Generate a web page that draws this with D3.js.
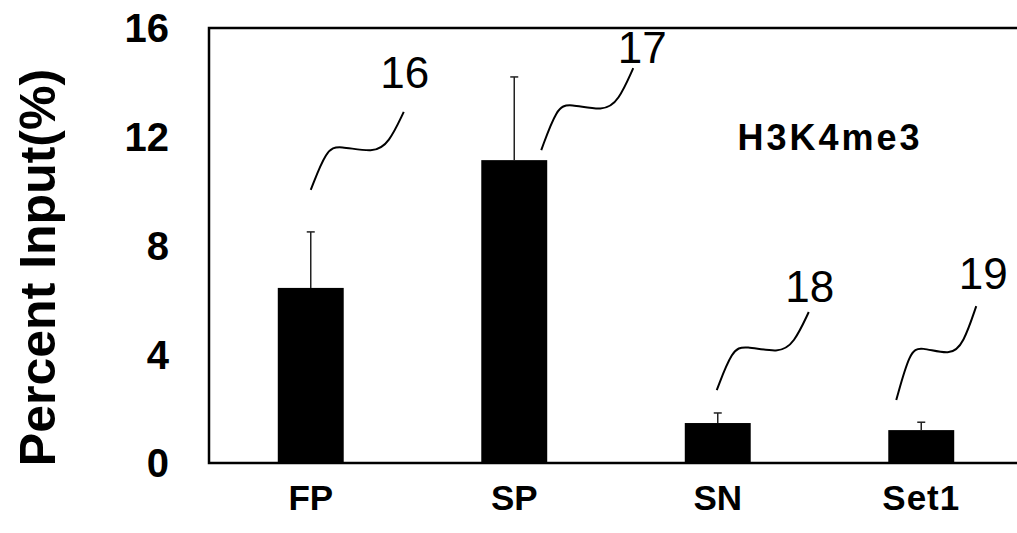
<!DOCTYPE html>
<html><head><meta charset="utf-8">
<script src="https://cdn.jsdelivr.net/npm/d3@7"></script>
<style>
html,body{margin:0;padding:0;background:#fff;}
svg{display:block;}
</style>
</head><body>
<svg id="chart" width="1017" height="533"></svg>
<script>
(function(){
// ---- data ----
const categories = ["FP", "SP", "SN", "Set1"];
const values = [6.44, 11.14, 1.47, 1.21];
const errors = [2.06, 3.06, 0.37, 0.29];
const yTicks = [0, 4, 8, 12, 16];
const calloutLabels = ["16", "17", "18", "19"];
const yLabel = "Percent Input(%)";
const markLabel = "H3K4me3";

// ---- layout ----
const svg = d3.select("#chart");
const mLeft = 209, mTop = 28, mBottom = 463, mRight = 1023;
const x = d3.scaleBand().domain(categories).range([mLeft, mRight])
  .paddingInner(0.676).paddingOuter(0.338);
const y = d3.scaleLinear().domain([0, 16]).range([mBottom, mTop]);

// frame (left, top, bottom lines)
svg.append("path")
  .attr("d", `M1017,${y(16)} H${mLeft} V${y(0)} H1017`)
  .attr("fill", "none").attr("stroke", "#000").attr("stroke-width", 2.5);

// y tick labels
svg.append("g").selectAll("text").data(yTicks).join("text")
  .attr("x", 169).attr("y", d => y(d))
  .attr("dy", "0.36em")
  .attr("text-anchor", "end")
  .attr("font-family", "Liberation Sans, Arial, sans-serif")
  .attr("font-weight", "bold").attr("font-size", 40)
  .text(d => d);

// y axis label
svg.append("text")
  .attr("transform", `translate(55,${(y(0)+y(16))/2 + 22}) rotate(-90)`)
  .attr("text-anchor", "middle")
  .attr("font-family", "Liberation Sans, Arial, sans-serif")
  .attr("font-weight", "bold").attr("font-size", 50)
  .text(yLabel);

// bars
const data = categories.map((c, i) => ({c, v: values[i], e: errors[i], lab: calloutLabels[i]}));
svg.append("g").selectAll("rect").data(data).join("rect")
  .attr("x", d => x(d.c)).attr("width", x.bandwidth())
  .attr("y", d => y(d.v)).attr("height", d => y(0) - y(d.v))
  .attr("fill", "#000");

// error bars
const eg = svg.append("g").attr("stroke", "#222").attr("stroke-width", 1.5);
eg.selectAll("line.v").data(data).join("line").attr("class", "v")
  .attr("x1", d => x(d.c) + x.bandwidth()/2).attr("x2", d => x(d.c) + x.bandwidth()/2)
  .attr("y1", d => y(d.v)).attr("y2", d => y(d.v + d.e));
eg.selectAll("line.h").data(data).join("line").attr("class", "h")
  .attr("x1", d => x(d.c) + x.bandwidth()/2 - 4).attr("x2", d => x(d.c) + x.bandwidth()/2 + 4)
  .attr("y1", d => y(d.v + d.e)).attr("y2", d => y(d.v + d.e));

// x labels
svg.append("g").selectAll("text").data(categories).join("text")
  .attr("x", d => x(d) + x.bandwidth()/2).attr("y", 510)
  .attr("text-anchor", "middle")
  .attr("font-family", "Liberation Sans, Arial, sans-serif")
  .attr("font-weight", "bold").attr("font-size", 35)
  .attr("letter-spacing", d => d === "Set1" ? 1 : 0)
  .text(d => d);

// H3K4me3 label
svg.append("text")
  .attr("x", 830).attr("y", 150)
  .attr("text-anchor", "middle")
  .attr("font-family", "Liberation Sans, Arial, sans-serif")
  .attr("font-weight", "bold").attr("font-size", 36)
  .attr("letter-spacing", 3)
  .text(markLabel);

// callout leaders (squiggles) and numbers
const squiggle = [[0,0],[0.17,0.52],[0.3,0.57],[0.68,0.47],[0.84,0.6],[1,1]];
const callouts = [
  {sx: 0, sy: -98, ex: 93, ey: -176, tx: 94, ty: -200},
  {sx: 27, sy: -10, ex: 119, ey: -92, tx: 128, ty: -97},
  {sx: -1, sy: -33, ex: 91, ey: -111, tx: 92, ty: -121},
  {sx: -25, sy: -30, ex: 55, ey: -124, tx: 62, ty: -141}
];
const line = d3.line().curve(d3.curveBasis);
data.forEach((d, i) => {
  const o = callouts[i];
  const cx = x(d.c) + x.bandwidth()/2, cy = y(d.v);
  const x0 = cx + o.sx, y0 = cy + o.sy, x1 = cx + o.ex, y1 = cy + o.ey;
  const pts = squiggle.map(([u, w]) => [x0 + u*(x1-x0), y0 + w*(y1-y0)]);
  pts.unshift(pts[0]); pts.push(pts[pts.length-1]);
  svg.append("path").attr("d", line(pts))
    .attr("fill", "none").attr("stroke", "#000").attr("stroke-width", 2);
  svg.append("text")
    .attr("x", cx + o.tx).attr("y", cy + o.ty)
    .attr("text-anchor", "middle")
    .attr("font-family", "Liberation Sans, Arial, sans-serif")
    .attr("font-size", 44)
    .text(d.lab);
});
})();
</script>
</body></html>
